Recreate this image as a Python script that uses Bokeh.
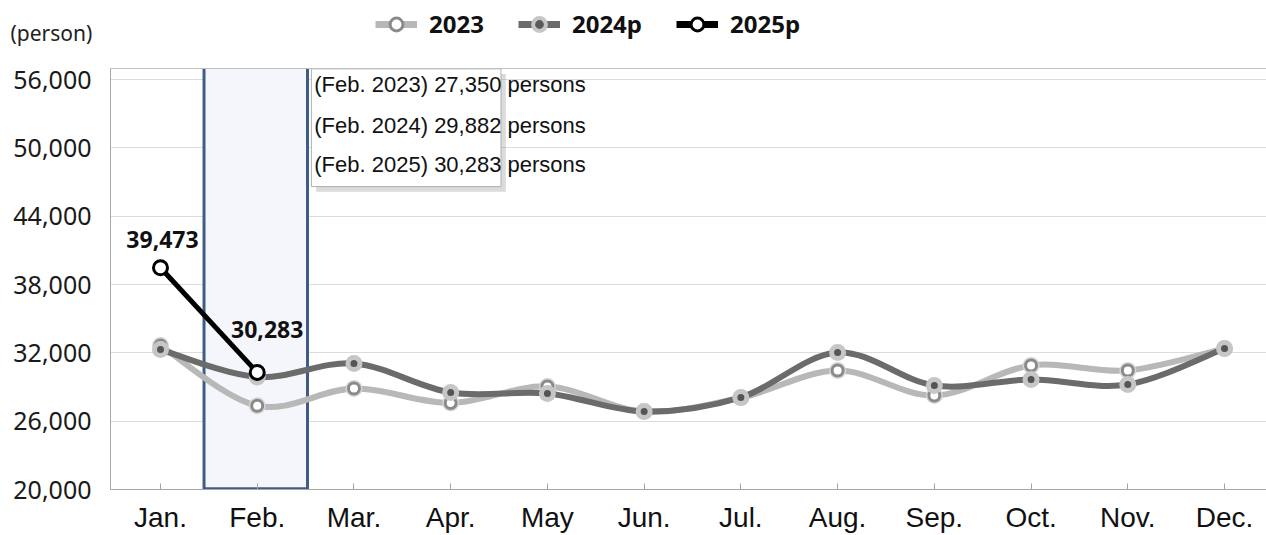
import numpy as np
from bokeh.plotting import figure
from bokeh.layouts import column
from bokeh.models import (Range1d, FixedTicker, Legend, LegendItem, Label,
                          LinearAxis, NumeralTickFormatter, ColumnDataSource)
from bokeh.core.properties import value
from bokeh.embed import file_html
from bokeh.resources import INLINE

# ---------------- data ----------------
months = ["Jan.", "Feb.", "Mar.", "Apr.", "May", "Jun.", "Jul.", "Aug.",
          "Sep.", "Oct.", "Nov.", "Dec."]
series_names = ["2023", "2024p", "2025p"]
y2023 = [32640, 27350, 28870, 27600, 29050, 26850, 28050, 30450, 28250, 30890, 30450, 32380]
y2024 = [32290, 29882, 31060, 28520, 28430, 26850, 28080, 32030, 29130, 29660, 29220, 32380]
y2025 = [39473, 30283]
y_ticks = [20000, 26000, 32000, 38000, 44000, 50000, 56000]
unit_label = "(person)"
highlight_month = "Feb."
tooltip_years = ["2023", "2024", "2025"]
tooltip_values = [27350, 29882, 30283]

FONT = "Noto Sans"
C23, C24 = "#b8b8b8", "#6b6b6b"
xs = list(range(1, len(months) + 1))
x25 = xs[:len(y2025)]
hx = months.index(highlight_month) + 1

# ---------------- header strip (unit label + legend) ----------------
TOP_H = 48
hdr = figure(width=1266, height=TOP_H, x_range=Range1d(0, 1), y_range=Range1d(0, 1),
             x_axis_type=None, y_axis_type=None, output_backend="svg",
             toolbar_location=None, min_border=0)
hdr.outline_line_color = None
hdr.xgrid.visible = False
hdr.ygrid.visible = False
try:
    hdr.frame_align = False
except Exception:
    pass

hdr.add_layout(Label(x=10, y=TOP_H - 32, x_units="screen", y_units="screen", text=unit_label,
                     text_align="left", text_baseline="middle",
                     text_font=FONT, text_font_size="21px", text_color="#222222"))

# legend proxies: same series, drawn outside the header's visible range
l23 = hdr.line(xs, y2023, line_color=C23, line_width=7)
m23 = hdr.scatter(xs, y2023, size=12, fill_color="white", line_color="#8a8a8a", line_width=3)
l24 = hdr.line(xs, y2024, line_color=C24, line_width=7)
m24 = hdr.scatter(xs, y2024, size=12, fill_color="#5a5a5a", line_color="#c6c6c6", line_width=4)
l25 = hdr.line(x25, y2025, line_color="black", line_width=7)
m25 = hdr.scatter(x25, y2025, size=12, fill_color="white", line_color="black", line_width=3)
legend = Legend(items=[LegendItem(label=series_names[0], renderers=[l23, m23]),
                       LegendItem(label=series_names[1], renderers=[l24, m24]),
                       LegendItem(label=series_names[2], renderers=[l25, m25])],
                orientation="horizontal", location=(375, 8), border_line_color=None,
                background_fill_alpha=0, label_text_font=FONT, label_text_font_style="bold",
                label_text_font_size="24px", label_text_color="#111111",
                glyph_width=42, glyph_height=32, spacing=34,
                padding=0, margin=0, label_standoff=12)
hdr.add_layout(legend)

# ---------------- main chart ----------------
Y0, Y1 = 20000, 56970
p = figure(width=1266, height=535 - TOP_H, x_range=Range1d(0.4831, 12.434), y_range=Range1d(Y0, Y1),
           output_backend="svg", toolbar_location=None,
           min_border_left=110, min_border_right=0, min_border_top=20, min_border_bottom=46)
try:
    p.frame_align = False
except Exception:
    pass
p.outline_line_color = None
p.xgrid.visible = False
p.ygrid.grid_line_color = "#dcdcdc"
p.ygrid.ticker = FixedTicker(ticks=y_ticks)

p.yaxis.ticker = FixedTicker(ticks=y_ticks)
p.yaxis.formatter = NumeralTickFormatter(format="0,0")
p.yaxis.axis_line_color = "#a6a6a6"
p.yaxis.major_tick_line_color = None
p.yaxis.minor_tick_line_color = None
p.yaxis.major_label_standoff = 13
p.yaxis.major_label_text_font = FONT
p.yaxis.major_label_text_font_size = "25px"
p.yaxis.major_label_text_color = "#1a1a1a"

p.xaxis.ticker = FixedTicker(ticks=xs)
p.xaxis.major_label_overrides = {i: m for i, m in zip(xs, months)}
p.xaxis.axis_line_color = "#a6a6a6"
p.xaxis.major_tick_line_color = "#a6a6a6"
p.xaxis.major_tick_in = 6
p.xaxis.major_tick_out = 0
p.xaxis.minor_tick_line_color = None
p.xaxis.major_label_standoff = 12
p.xaxis.major_label_text_font = "Liberation Sans"
p.xaxis.major_label_text_font_size = "28px"
p.xaxis.major_label_text_color = "#111111"

top_axis = LinearAxis(ticker=FixedTicker(ticks=[]), axis_line_color="#bfbfbf",
                      major_label_text_font_size="0px", major_tick_line_color=None,
                      major_tick_in=0, major_tick_out=0, major_label_standoff=0,
                      minor_tick_line_color=None)
p.add_layout(top_axis, "above")

# highlight band for the selected month
p.quad(left=[hx - 0.55], right=[hx + 0.52], bottom=[Y0 + 60], top=[Y1 + 200],
       fill_color="#f4f6fb", line_color="#3f5d84", line_width=3)


def bez(x, y):
    n = len(x)
    P = list(zip(x, y))
    d = dict(x0=[], y0=[], x1=[], y1=[], cx0=[], cy0=[], cx1=[], cy1=[])
    for i in range(n - 1):
        p0 = P[i - 1] if i > 0 else P[i]
        p1 = P[i]
        p2 = P[i + 1]
        p3 = P[i + 2] if i + 2 < n else P[i + 1]
        d["x0"].append(p1[0]); d["y0"].append(p1[1])
        d["x1"].append(p2[0]); d["y1"].append(p2[1])
        d["cx0"].append(p1[0] + (p2[0] - p0[0]) / 6); d["cy0"].append(p1[1] + (p2[1] - p0[1]) / 6)
        d["cx1"].append(p2[0] - (p3[0] - p1[0]) / 6); d["cy1"].append(p2[1] - (p3[1] - p1[1]) / 6)
    return ColumnDataSource(d)


p.bezier(x0="x0", y0="y0", x1="x1", y1="y1", cx0="cx0", cy0="cy0", cx1="cx1", cy1="cy1",
         source=bez(xs, y2023), line_color=C23, line_width=6, line_cap="round")
p.scatter(xs, y2023, size=17, fill_color="#d6d6d6", line_color=None)
p.scatter(xs, y2023, size=11, fill_color="white", line_color="#8a8a8a", line_width=3)

p.bezier(x0="x0", y0="y0", x1="x1", y1="y1", cx0="cx0", cy0="cy0", cx1="cx1", cy1="cy1",
         source=bez(xs, y2024), line_color=C24, line_width=6, line_cap="round")
p.scatter(xs, y2024, size=17, fill_color="#c6c6c6", line_color=None)
p.scatter(xs, y2024, size=7, fill_color="#555555", line_color=None)

p.line(x25, y2025, line_color="black", line_width=5)
p.scatter(x25, y2025, size=14, fill_color="white", line_color="black", line_width=3)

p.text(x=x25, y=y2025, text=[f"{v:,}" for v in y2025], x_offset=[2, 10], y_offset=[-28, -43],
       text_align="center", text_baseline="middle", text_font=value(FONT),
       text_font_style="bold", text_font_size="23px", text_color="#111111")

# tooltip-like box
bl, br, bb, bt = hx + 0.56, hx + 2.52, 46600, 56940
p.quad(left=[bl + 0.05], right=[br + 0.05], bottom=[bb - 450], top=[bt - 450],
       fill_color="#888888", fill_alpha=0.3, line_color=None)
p.quad(left=[bl], right=[br], bottom=[bb], top=[bt], fill_color="white",
       line_color="#b0b0b0", line_width=1)
tip_y = [55560, 51960, 48540]
p.text(x=[bl + 0.03] * 3, y=tip_y,
       text=[f"({highlight_month} {yr}) {v:,} persons" for yr, v in zip(tooltip_years, tooltip_values)],
       text_align="left", text_baseline="middle", text_font=value("Liberation Sans"),
       text_font_size="22px", text_color="#111111")

layout = column(hdr, p, spacing=0)
open("out.html", "w").write(file_html(layout, INLINE))
